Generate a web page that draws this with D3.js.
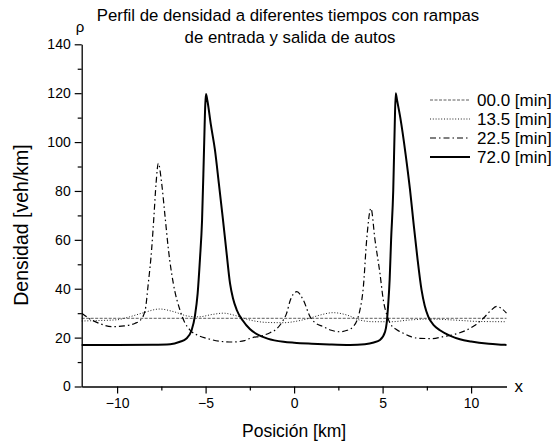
<!DOCTYPE html>
<html>
<head>
<meta charset="utf-8">
<script src="https://cdn.jsdelivr.net/npm/d3@7"></script>
<style>
  body { margin: 0; background: #fff; }
  text { font-family: Arial, "Liberation Sans", sans-serif; fill: #000; }
</style>
</head>
<body>
<div id="chart"></div>
<script>
// Series data
var seriesNames = ["00.0 [min]", "13.5 [min]", "22.5 [min]", "72.0 [min]"];

var pos00  = [-12, -8, -4, 0, 4, 8, 12];
var dens00 = [27.9, 27.9, 27.9, 27.9, 27.9, 27.9, 27.9];

var pos135  = [-12, -11, -10, -9.3, -8.5, -7.6, -6.8, -6.0, -5.4, -4.6, -4.0, -3.3, -2.5, -1.5, -0.6, 0.2, 0.9, 1.5, 2.2, 3.0, 3.7, 4.5, 5.5, 6.5, 7.7, 9, 10.5, 12];
var dens135 = [26.8, 27, 27.3, 28.5, 30.2, 31.7, 30.6, 28.8, 28.5, 29.5, 30, 29, 27.2, 26.2, 26.1, 26.8, 28, 29.3, 30.2, 29.2, 27.2, 26.5, 26.5, 27.2, 27.6, 27.2, 26.6, 26.5];

var pos225  = [-12, -11.5, -11, -10.3, -9.6, -9.0, -8.7, -8.42, -8.24, -8.05, -7.92, -7.8, -7.67, -7.48, -7.29, -7.1, -6.82, -6.45, -6.2, -5.88, -5.4, -4.94, -4.19, -3.5, -2.8, -2.49, -1.8, -1.36, -1.0, -0.61, -0.42, -0.23, 0.15, 0.52, 0.9, 1.2, 1.65, 2.1, 2.59, 3.0, 3.34, 3.6, 3.72, 3.91, 4.1, 4.34, 4.57, 4.85, 5.04, 5.25, 5.42, 5.8, 6.17, 6.6, 7.1, 7.8, 8.43, 9.1, 9.75, 10.2, 10.69, 11.1, 11.45, 11.7, 12];
var dens225 = [30, 27.5, 25.8, 24.5, 24.8, 25.8, 27, 31, 42, 56, 69.5, 83, 91.3, 83, 69.5, 56, 42, 31.3, 26.5, 23.1, 20.8, 19.7, 18.5, 18.2, 18.8, 19.7, 20.8, 22, 23.5, 27.2, 30, 35, 38.8, 35.4, 28.6, 26, 24.5, 23, 22.4, 23, 24.5, 28, 31.3, 40.5, 60, 72.9, 60, 46.3, 35.4, 29, 25.9, 23.2, 21.8, 20.4, 19.7, 19.6, 20.4, 21.4, 23.1, 25, 27.9, 31, 32.8, 32, 30];

var pos720  = [-12, -10, -8, -7, -6.45, -6.1, -5.79, -5.6, -5.45, -5.32, -5.2, -5.09, -5.02, -4.98, -4.9, -4.7, -4.47, -4.25, -4.03, -3.82, -3.62, -3.45, -3.24, -2.9, -2.5, -2.0, -1.5, -0.6, 0, 1, 2, 3.16, 4, 4.5, 4.85, 5.14, 5.23, 5.32, 5.4, 5.48, 5.6, 5.68, 5.74, 5.82, 6.0, 6.3, 6.55, 6.73, 6.96, 7.2, 7.38, 7.58, 7.9, 8.24, 8.8, 9.37, 10, 11, 11.8, 12];
var dens720 = [17, 17, 17.1, 17.3, 18.3, 19.5, 23, 29, 38, 52, 68, 96.7, 115, 119.7, 117, 107, 96.7, 83, 69, 55, 42.2, 36, 31.3, 27, 23.5, 21, 19.6, 18.3, 17.9, 17.5, 17.2, 17, 17.3, 18, 19, 22.4, 25.9, 34, 44, 60, 80, 105, 120, 117, 110, 95, 80.4, 68.1, 53, 39.5, 33, 28.6, 25, 23, 20.8, 19.3, 18.4, 17.5, 17.1, 17];

var xTicks = [-10, -5, 0, 5, 10];
var xMinor = [-7.5, -2.5, 2.5, 7.5];
var yTicks = [0, 20, 40, 60, 80, 100, 120, 140];
var yMinor = [10, 30, 50, 70, 90, 110, 130];

var width = 553, height = 443;
var margin = { top: 44.3, right: 46.5, bottom: 56.5, left: 81.7 };
var plotW = width - margin.left - margin.right;
var plotH = height - margin.top - margin.bottom;

var svg = d3.select("#chart")
  .append("svg")
  .attr("width", width)
  .attr("height", height);

var g = svg.append("g")
  .attr("transform", "translate(" + margin.left + "," + margin.top + ")");

var x = d3.scaleLinear().domain([-12, 12]).range([0, plotW]);
var y = d3.scaleLinear().domain([0, 140]).range([plotH, 0]);

// line styles per series
var styles = [
  { color: "#333", width: 0.8, dash: "3,1.5" },
  { color: "#222", width: 1, dash: "1,1.8" },
  { color: "#000", width: 1.2, dash: "6,3,1.5,3" },
  { color: "#000", width: 2, dash: null }
];

var allSeries = [
  d3.zip(pos00, dens00),
  d3.zip(pos135, dens135),
  d3.zip(pos225, dens225),
  d3.zip(pos720, dens720)
];

var line = d3.line()
  .x(function(d) { return x(d[0]); })
  .y(function(d) { return y(d[1]); })
  .curve(d3.curveMonotoneX);

g.selectAll("path.series")
  .data(allSeries)
  .enter().append("path")
  .attr("class", "series")
  .attr("d", line)
  .attr("fill", "none")
  .attr("stroke", function(d, i) { return styles[i].color; })
  .attr("stroke-width", function(d, i) { return styles[i].width; })
  .attr("stroke-dasharray", function(d, i) { return styles[i].dash; });

// minor ticks first, then major axes
g.append("g")
  .attr("transform", "translate(0," + plotH + ")")
  .call(d3.axisBottom(x).tickValues(xMinor).tickSize(4).tickSizeOuter(0).tickFormat(""))
  .call(function(a) { a.select(".domain").remove(); });

g.append("g")
  .call(d3.axisLeft(y).tickValues(yMinor).tickSize(4).tickSizeOuter(0).tickFormat(""))
  .call(function(a) { a.select(".domain").remove(); });

g.append("g")
  .attr("transform", "translate(0," + plotH + ")")
  .call(d3.axisBottom(x).tickValues(xTicks).tickSize(7).tickSizeOuter(0).tickPadding(5));

g.append("g")
  .call(d3.axisLeft(y).tickValues(yTicks).tickSize(7).tickSizeOuter(0).tickPadding(4));

g.selectAll(".tick line").attr("stroke", "#000").attr("stroke-width", 1.2);
g.selectAll(".domain").attr("stroke", "#000").attr("stroke-width", 1.3);
g.selectAll(".tick text").style("font-size", "14px").style("font-family", "Arial, 'Liberation Sans', sans-serif");

// axis symbols
g.append("text")
  .attr("x", plotW + 8)
  .attr("y", plotH + 6)
  .style("font-size", "17px")
  .text("x");

g.append("text")
  .attr("x", -6)
  .attr("y", -12)
  .style("font-size", "15px")
  .text("ρ");

// axis titles
svg.append("text")
  .attr("x", margin.left + plotW / 2)
  .attr("y", 437)
  .attr("text-anchor", "middle")
  .style("font-size", "17.5px")
  .text("Posición [km]");

svg.append("text")
  .attr("transform", "translate(28,225) rotate(-90)")
  .attr("text-anchor", "middle")
  .style("font-size", "19.5px")
  .text("Densidad [veh/km]");

// title
var title = svg.append("text")
  .attr("text-anchor", "middle")
  .style("font-size", "16.8px");
title.append("tspan").attr("x", 288).attr("y", 21).text("Perfil de densidad a diferentes tiempos con rampas");
title.append("tspan").attr("x", 290).attr("y", 43).text("de entrada y salida de autos");

// legend
var legend = svg.append("g").attr("class", "legend");
var legendRows = legend.selectAll("g")
  .data(seriesNames)
  .enter().append("g")
  .attr("transform", function(d, i) { return "translate(430," + (100 + i * 19) + ")"; });

legendRows.append("line")
  .attr("x1", 0).attr("x2", 40)
  .attr("stroke", function(d, i) { return styles[i].color; })
  .attr("stroke-width", function(d, i) { return styles[i].width; })
  .attr("stroke-dasharray", function(d, i) { return styles[i].dash; });

legendRows.append("text")
  .attr("x", 47)
  .attr("dy", "0.36em")
  .style("font-size", "17px")
  .text(function(d) { return d; });
</script>
</body>
</html>
